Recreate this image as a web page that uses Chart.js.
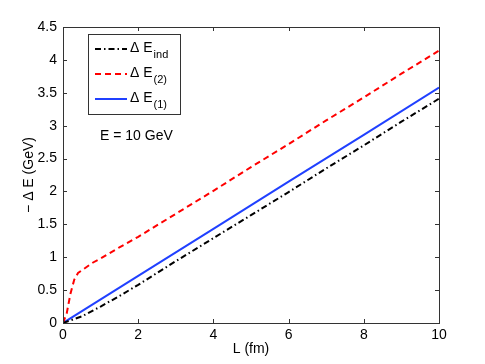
<!DOCTYPE html>
<html lang="en">
<head>
<meta charset="UTF-8">
<title>Energy loss vs L</title>
<script src="https://cdn.jsdelivr.net/npm/chart.js"></script>
<style>
  * { margin: 0; padding: 0; }
  body { background: #fff; }
  #wrap { width: 485px; height: 364px; }
</style>
</head>
<body>
<div id="wrap"><canvas id="c" width="485" height="364"></canvas></div>
<script>
// data
const lInd = [0, 0.5, 1, 1.5, 2, 3, 4, 5, 6, 7, 8, 9, 10];
const eInd = [0, 0.1, 0.25, 0.41, 0.58, 0.94, 1.29, 1.64, 1.99, 2.35, 2.7, 3.06, 3.41];
const l2 = [0, 0.1, 0.2, 0.3, 0.4, 0.6, 0.8, 1, 1.5, 2, 3, 4, 5, 6, 7, 8, 9, 10];
const e2 = [0, 0.15, 0.45, 0.66, 0.76, 0.84, 0.92, 0.98, 1.15, 1.31, 1.66, 2.01, 2.37, 2.72, 3.08, 3.43, 3.79, 4.14];
const l1 = [0, 2, 4, 6, 8, 10];
const e1 = [0, 0.716, 1.43, 2.15, 2.86, 3.58];
const xTicks = [0, 2, 4, 6, 8, 10];
const yTicks = [0, 0.5, 1, 1.5, 2, 2.5, 3, 3.5, 4, 4.5];

const FONT = '"Liberation Sans", Arial, sans-serif';
const pts = (xs, ys) => xs.map((x, i) => ({ x: x, y: ys[i] }));

const series = [
  { sub: 'ind', color: '#000000', dash: [6, 3, 1.5, 3], data: pts(lInd, eInd) },
  { sub: '(2)', color: '#ff0000', dash: [6, 4], data: pts(l2, e2) },
  { sub: '(1)', color: '#2040ff', dash: [], data: pts(l1, e1) }
];

const frame = {
  id: 'frame',
  afterDraw(chart) {
    const ctx = chart.ctx, a = chart.chartArea;
    const xs = chart.scales.x, ys = chart.scales.y;
    ctx.save();
    ctx.strokeStyle = '#333';
    ctx.lineWidth = 1;
    ctx.strokeRect(a.left + 0.5, a.top + 0.5, a.right - a.left, a.bottom - a.top);
    // inward ticks on all four sides
    ctx.beginPath();
    xTicks.forEach(v => {
      const p = Math.round(xs.getPixelForValue(v)) + 0.5;
      ctx.moveTo(p, a.bottom); ctx.lineTo(p, a.bottom - 4);
      ctx.moveTo(p, a.top); ctx.lineTo(p, a.top + 4);
    });
    yTicks.forEach(v => {
      const p = Math.round(ys.getPixelForValue(v)) + 0.5;
      ctx.moveTo(a.left, p); ctx.lineTo(a.left + 4, p);
      ctx.moveTo(a.right, p); ctx.lineTo(a.right - 4, p);
    });
    ctx.stroke();

    // axis titles
    ctx.fillStyle = '#000';
    ctx.font = '14px ' + FONT;
    ctx.textAlign = 'center';
    ctx.textBaseline = 'middle';
    ctx.fillText('L (fm)', (a.left + a.right) / 2, 349);
    ctx.save();
    ctx.translate(29, (a.top + a.bottom) / 2);
    ctx.rotate(-Math.PI / 2);
    ctx.fillText('\u2212 \u0394 E (GeV)', 0, 0);
    ctx.restore();

    // legend box
    ctx.fillStyle = '#fff';
    ctx.fillRect(88, 34, 92, 80);
    ctx.strokeStyle = '#333';
    ctx.strokeRect(88.5, 34.5, 92, 80);
    series.forEach((s, i) => {
      const y = 49 + i * 25;
      ctx.save();
      ctx.strokeStyle = s.color;
      ctx.lineWidth = 2;
      ctx.setLineDash(s.dash);
      ctx.beginPath();
      ctx.moveTo(95, y); ctx.lineTo(127, y);
      ctx.stroke();
      ctx.restore();
      ctx.fillStyle = '#000';
      ctx.textAlign = 'left';
      ctx.textBaseline = 'alphabetic';
      ctx.font = '14px ' + FONT;
      ctx.fillText('\u0394 E', 130, y + 3);
      const w = ctx.measureText('\u0394 E').width;
      ctx.font = '11px ' + FONT;
      ctx.fillText(s.sub, 130 + w + 1, y + 9);
    });

    ctx.font = '14px ' + FONT;
    ctx.textAlign = 'left';
    ctx.textBaseline = 'middle';
    ctx.fillStyle = '#000';
    ctx.fillText('E = 10 GeV', 100, 136);
    ctx.restore();
  }
};

new Chart(document.getElementById('c'), {
  type: 'line',
  data: {
    datasets: series.map(s => ({
      label: s.sub,
      data: s.data,
      borderColor: s.color,
      borderDash: s.dash,
      borderWidth: 2,
      pointRadius: 0,
      tension: 0,
      fill: false
    }))
  },
  options: {
    responsive: false,
    animation: false,
    layout: { padding: { top: 27, right: 46, left: 0, bottom: 0 } },
    plugins: { legend: { display: false }, tooltip: { enabled: false } },
    scales: {
      x: {
        type: 'linear', min: 0, max: 10,
        afterBuildTicks: sc => { sc.ticks = xTicks.map(v => ({ value: v })); },
        afterFit: sc => { sc.height = 41; },
        grid: { display: false, drawTicks: false },
        border: { display: false },
        ticks: { color: '#000', padding: 4, maxRotation: 0, font: { family: FONT, size: 14 },
                 callback: v => String(v) }
      },
      y: {
        type: 'linear', min: 0, max: 4.5,
        afterBuildTicks: sc => { sc.ticks = yTicks.map(v => ({ value: v })); },
        afterFit: sc => { sc.width = 63; },
        grid: { display: false, drawTicks: false },
        border: { display: false },
        ticks: { color: '#000', padding: 6, font: { family: FONT, size: 14 },
                 callback: v => String(v) }
      }
    }
  },
  plugins: [frame]
});
</script>
</body>
</html>
